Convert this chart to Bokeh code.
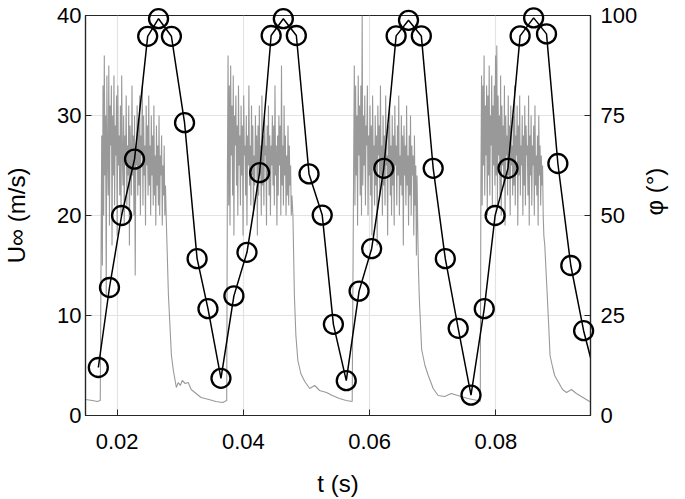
import math
import numpy as np
from bokeh.plotting import figure
from bokeh.models import Range1d, LinearAxis, FixedTicker
from bokeh.embed import file_html
from bokeh.resources import INLINE

# ---------------- data ----------------
# phase angle phi (deg), right axis
phi_t = [0.01703, 0.01880, 0.02072, 0.02277, 0.02485, 0.02657, 0.02861, 0.03069, 0.03268, 0.03440,
         0.03646, 0.03851, 0.04058, 0.04258, 0.04441, 0.04634, 0.04840, 0.05041, 0.05250, 0.05427,
         0.05631, 0.05834, 0.06033, 0.06225, 0.06421, 0.06617, 0.06820, 0.07008, 0.07200, 0.07404,
         0.07607, 0.07817, 0.07989, 0.08193, 0.08385, 0.08599, 0.08803, 0.08983, 0.09188, 0.09391,
         0.09590]
phi_v = [12.0, 32.0, 50.0, 64.1, 94.8, 99.2, 94.8, 73.2, 39.2, 26.7,
         9.3, 29.9, 40.8, 60.7, 95.0, 99.2, 95.0, 60.4, 50.1, 22.8,
         8.7, 31.1, 41.7, 61.8, 94.9, 98.8, 94.9, 61.8, 39.2, 21.8,
         5.1, 26.7, 50.0, 61.8, 94.9, 99.4, 95.4, 63.0, 37.5, 21.2,
         9.0]

# free-stream velocity U (m/s), left axis
pre_t = [0.01500, 0.01609, 0.01687, 0.01734]
pre_u = [1.6, 1.5, 1.4, 1.5]

burst_start = [0.01757, 0.03748, 0.05748, 0.07764]
burst_end = [0.02767, 0.04770, 0.06773, 0.08761]
burst1 = [28, 15, 33, 20, 36, 24, 30, 12, 34, 26, 22, 35, 19, 31, 27, 33, 17, 30, 24, 34,
          21, 29, 26, 32, 18, 33, 25, 28, 22, 31, 20, 34, 26, 23, 30, 19, 28, 25, 32, 21,
          27, 24, 31, 17, 29, 26, 22, 33, 24, 28, 20, 30, 14, 27, 25, 31, 22, 29, 23, 32,
          20, 28, 26, 33, 21, 30, 24, 27, 19, 31, 25, 29, 22, 32, 23, 27, 20, 30, 24, 28,
          21, 31, 22, 26, 19, 29, 23, 27, 21, 30, 20, 26, 24, 28, 19, 25, 22, 27, 20, 23]
burst2 = [24, 36, 21, 33, 19, 35, 26, 31, 22, 34, 18, 30, 27, 32, 23, 29, 20, 33, 25, 28,
          21, 31, 24, 29, 18, 32, 26, 27, 22, 30, 19, 28, 25, 33, 23, 27, 21, 31, 24, 29,
          20, 26, 23, 30, 25, 28, 18, 29, 22, 31, 24, 27, 20, 32, 23, 28, 21, 30, 26, 27,
          19, 29, 24, 31, 22, 28, 20, 27, 25, 30, 23, 29, 21, 33, 24, 27, 19, 28, 22, 30,
          25, 29, 20, 35, 23, 27, 21, 31, 24, 28, 20, 26, 22, 29, 21, 27, 23, 25, 20, 22]
burst3 = [25, 35, 21, 33, 24, 30, 19, 34, 26, 31, 22, 33, 20, 40, 23, 30, 25, 32, 21, 29,
          27, 33, 20, 28, 24, 31, 22, 29, 18, 32, 25, 27, 21, 30, 23, 28, 17, 31, 26, 29,
          22, 33, 24, 27, 20, 30, 23, 28, 21, 32, 25, 26, 18, 29, 24, 31, 22, 27, 20, 30,
          23, 28, 19, 31, 25, 27, 21, 29, 24, 32, 20, 26, 23, 30, 22, 28, 17, 29, 24, 27,
          21, 31, 23, 26, 19, 28, 22, 30, 20, 27, 24, 26, 18, 28, 21, 25, 16, 24, 19, 15]
burst4 = [23, 34, 21, 33, 25, 36, 22, 31, 26, 33, 20, 32, 24, 35, 22, 30, 27, 34, 21, 31,
          25, 33, 23, 36, 24, 37, 21, 32, 26, 30, 22, 34, 20, 31, 25, 29, 23, 33, 19, 30,
          26, 28, 22, 32, 24, 29, 20, 31, 25, 27, 22, 30, 23, 33, 21, 28, 26, 31, 19, 29,
          24, 32, 22, 27, 25, 30, 20, 28, 23, 31, 21, 29, 26, 27, 22, 32, 19, 28, 24, 30,
          21, 27, 25, 29, 20, 31, 23, 26, 22, 28, 19, 30, 24, 27, 21, 26, 23, 25, 20, 18]

decay1_t = [0.02782, 0.02814, 0.02861, 0.02892, 0.02939, 0.02970, 0.03002, 0.03033, 0.03080,
            0.03127, 0.03174, 0.03252, 0.03330, 0.03455, 0.03564, 0.03674, 0.03737]
decay1_u = [19, 12, 6, 4.5, 2.8, 3.3, 3.0, 3.5, 3.2, 3.3, 2.6, 2.2, 1.8, 1.6, 1.4, 1.3, 1.5]
decay2_t = [0.04786, 0.04809, 0.04833, 0.04864, 0.04911, 0.04973, 0.05052, 0.05130, 0.05208,
            0.05318, 0.05411, 0.05521, 0.05631, 0.05725]
decay2_u = [20, 12, 8, 5.5, 4.2, 3.4, 2.7, 3.0, 2.5, 2.3, 2.0, 1.7, 1.5, 1.4]
decay3_t = [0.06789, 0.06825, 0.06878, 0.06930, 0.07008, 0.07086, 0.07191, 0.07294, 0.07399,
            0.07556, 0.07712, 0.07754]
decay3_u = [11.6, 6.6, 5.0, 4.0, 2.7, 2.0, 1.9, 2.2, 2.0, 1.7, 1.5, 1.4]
decay4_t = [0.08776, 0.08807, 0.08838, 0.08859, 0.08901, 0.08932, 0.08995, 0.09057, 0.09120,
            0.09198, 0.09276, 0.09355, 0.09433, 0.09511]
decay4_u = [17, 13, 9, 6, 4.8, 4.0, 3.3, 2.6, 2.3, 2.6, 2.2, 1.9, 1.6, 1.3]

x_ticks = [0.02, 0.04, 0.06, 0.08]
u_ticks = [0, 10, 20, 30, 40]
phi_ticks = [0, 25, 50, 75, 100]
t_min, t_max = 0.015, 0.095

# ---------------- assemble gray signal ----------------
bursts = [burst1, burst2, burst3, burst4]
decays_t = [decay1_t, decay2_t, decay3_t, decay4_t]
decays_u = [decay1_u, decay2_u, decay3_u, decay4_u]
sig_t = list(pre_t)
sig_u = list(pre_u)
for b, s, e, dt_, du_ in zip(bursts, burst_start, burst_end, decays_t, decays_u):
    sig_t += list(np.linspace(s, e, len(b)))
    sig_u += list(b)
    sig_t += dt_
    sig_u += du_

# markers only for samples inside the visible time window
mk_t = [t for t in phi_t if t_min <= t <= t_max]
mk_v = [v for t, v in zip(phi_t, phi_v) if t_min <= t <= t_max]

# ---------------- figure ----------------
FONT = "Liberation Sans"
AX = "#262626"
W, H = 684, 499

p = figure(width=W, height=H, output_backend="svg", toolbar_location=None,
           x_range=Range1d(t_min, t_max), y_range=Range1d(0, 40),
           min_border_left=83, min_border_right=W - 595, min_border_top=15,
           min_border_bottom=H - 417,
           background_fill_color="white", border_fill_color="white")
p.extra_y_ranges = {"phi": Range1d(0, 100)}

p.outline_line_color = AX
p.outline_line_width = 1.2
p.outline_line_alpha = 1.0

p.xgrid.ticker = FixedTicker(ticks=x_ticks)
p.ygrid.ticker = FixedTicker(ticks=u_ticks)
for g in (p.xgrid, p.ygrid):
    g.grid_line_color = "#e3e3e3"
    g.grid_line_width = 1.2

p.line(sig_t, sig_u, line_color="#999999", line_width=1.1)
p.line(phi_t, phi_v, y_range_name="phi", line_color="black", line_width=1.5)
p.scatter(mk_t, mk_v, y_range_name="phi", marker="circle", size=19,
          fill_color=None, line_color="black", line_width=2.3, level="overlay")

ra = LinearAxis(y_range_name="phi")
p.add_layout(ra, "right")

p.xaxis.ticker = FixedTicker(ticks=x_ticks)
p.xaxis.major_label_overrides = {0.02: "0.02", 0.04: "0.04", 0.06: "0.06", 0.08: "0.08"}
p.yaxis[0].ticker = FixedTicker(ticks=u_ticks)
ra.ticker = FixedTicker(ticks=phi_ticks)

p.xaxis.axis_label = "t (s)"
p.yaxis[0].axis_label = "U∞ (m/s)"
ra.axis_label = "φ (°)"
ra.axis_label_orientation = math.pi / 2

for ax in [p.xaxis[0], p.yaxis[0], ra]:
    ax.axis_line_color = AX
    ax.axis_line_width = 1.2
    ax.major_tick_line_color = AX
    ax.major_tick_in = 6
    ax.major_tick_out = 0
    ax.minor_tick_in = 0
    ax.minor_tick_out = 0
    ax.minor_tick_line_color = None
    ax.major_label_text_font = FONT
    ax.major_label_text_font_size = "22px"
    ax.major_label_text_color = "black"
    ax.axis_label_text_font = FONT
    ax.axis_label_text_font_size = "24px"
    ax.axis_label_text_font_style = "normal"
    ax.axis_label_text_color = "black"

p.xaxis.major_label_standoff = 18
p.xaxis.axis_label_standoff = 18
p.yaxis[0].major_label_standoff = 4
p.yaxis[0].axis_label_standoff = 24
ra.major_label_standoff = 10
ra.axis_label_standoff = 14

open("out.html", "w").write(file_html(p, INLINE))
